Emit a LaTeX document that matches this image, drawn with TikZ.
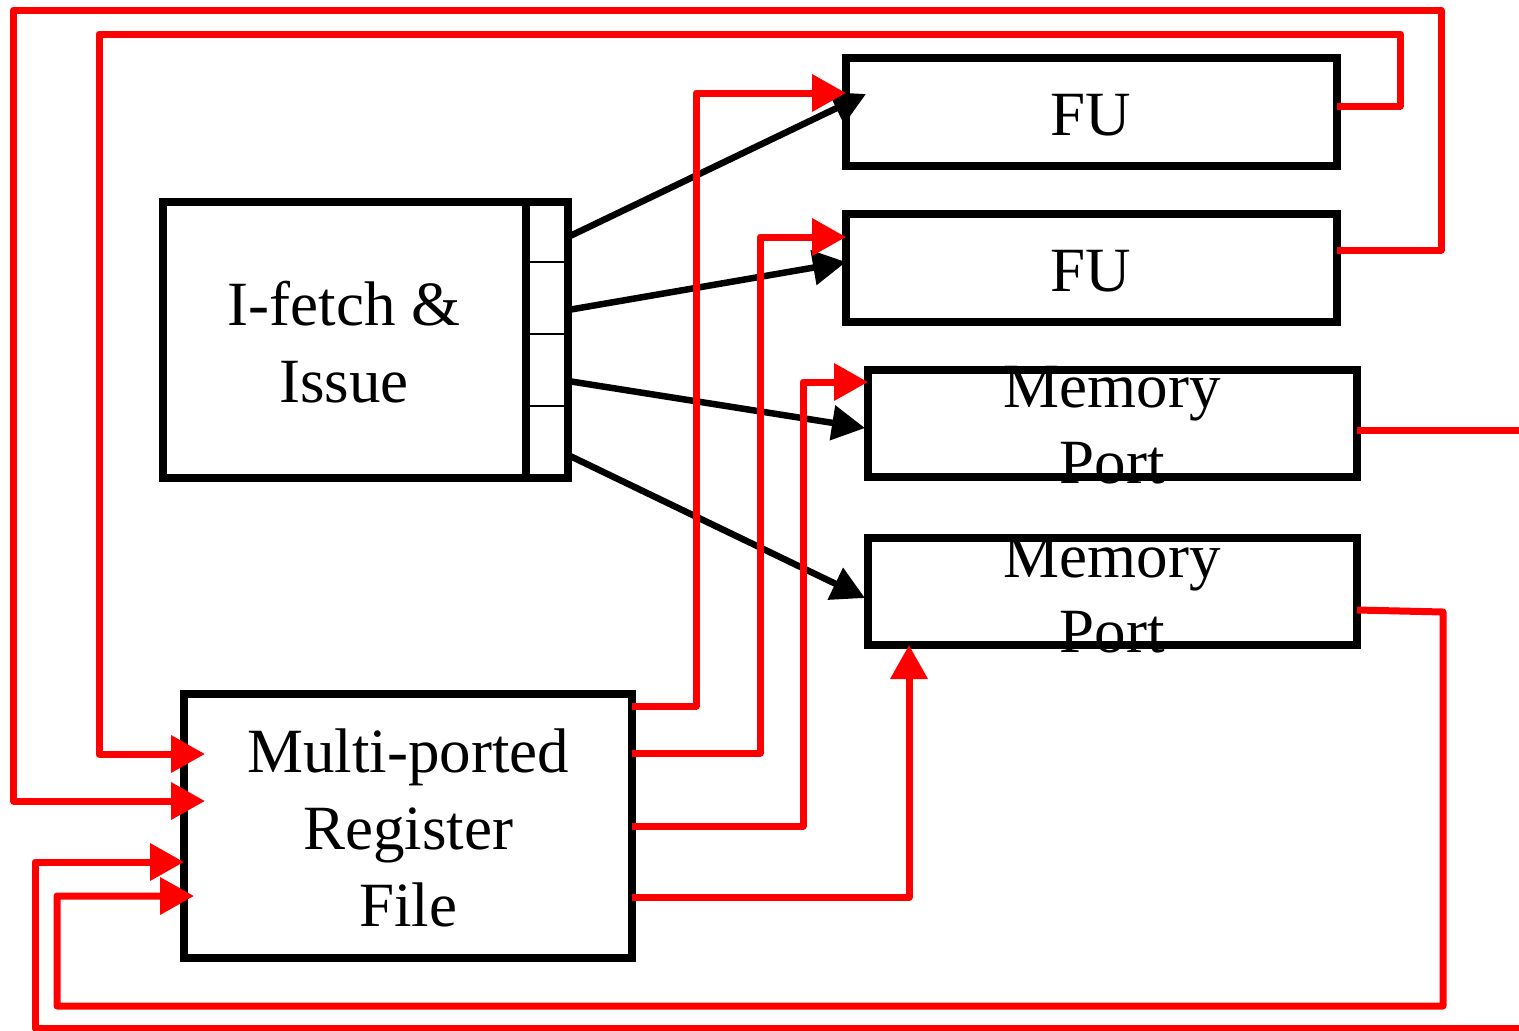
\documentclass[tikz,border=0pt]{standalone}
\usepackage{fontspec}
\setmainfont{Liberation Serif}
\usetikzlibrary{arrows.meta,calc}

\begin{document}
\begin{tikzpicture}[x=1pt,y=-1pt,
  blk/.style={draw=black,line width=7.5pt,fill=white,inner sep=0pt,outer sep=0pt,
    minimum width=#1},
  lbl/.style={font=\fontsize{63}{74}\selectfont,inner sep=0pt,anchor=base},
  sep/.style={draw=black,line width=1.7pt},
  ctl/.style={draw=black,line width=6.5pt,-{Triangle[length=33pt,width=34pt]}},
  dat/.style={draw=red,line width=7pt,line join=round,-{Triangle[length=34pt,width=36pt]}},
  datline/.style={draw=red,line width=7pt,line join=round}]

\useasboundingbox (0,0) rectangle (1519,1031);

% functional blocks
\node[blk=363pt,minimum height=276pt] (ifetch) at (344.5,340) {};
\node[blk=42pt,minimum height=276pt]  (queue)  at (547,340) {};
\node[blk=491pt,minimum height=108pt] (fu1)  at (1091.5,112) {};
\node[blk=491pt,minimum height=108pt] (fu2)  at (1091.5,268) {};
\node[blk=489pt,minimum height=107pt] (mem1) at (1112.5,423.5) {};
\node[blk=489pt,minimum height=107pt] (mem2) at (1112.5,591.5) {};
\node[blk=448pt,minimum height=264pt] (rf)   at (408,826) {};

% issue queue slots
\draw[sep] (queue.west |- 0,262) -- (queue.east |- 0,262);
\draw[sep] (queue.west |- 0,334) -- (queue.east |- 0,334);
\draw[sep] (queue.west |- 0,406) -- (queue.east |- 0,406);

% block labels
\node[lbl] (t-if1) at (344,325) {I-fetch \&};
\node[lbl] (t-if2) at (344,402) {Issue};
\node[lbl] (t-fu1) at (1091,135) {FU};
\node[lbl] (t-fu2) at (1091,291) {FU};
\node[lbl] (t-m1a) at (1112,407) {Memory};
\node[lbl] (t-m1b) at (1112,483) {Port};
\node[lbl] (t-m2a) at (1112,577) {Memory};
\node[lbl] (t-m2b) at (1112,652) {Port};
\node[lbl] (t-rf1) at (408,772) {Multi-ported};
\node[lbl] (t-rf2) at (408,849) {Register};
\node[lbl] (t-rf3) at (408,926) {File};

% instruction issue paths
\draw[ctl] (queue.east |- 0,237) -- ($(fu1.north west)+(20,36)$);
\draw[ctl] (queue.east |- 0,310) -- (fu2.west |- 0,262);
\draw[ctl] (queue.east |- 0,381) -- ($(mem1.west |- 0,428)+(-3,0)$);
\draw[ctl] (queue.east |- 0,455) -- ($(mem2.west |- 0,598)+(-3,0)$);

% operand read paths
\draw[dat] (rf.east |- 0,706) -- ++(64,0) |- (fu1.west |- 0,93);
\draw[dat] (rf.east |- 0,753) -- ++(128,0) |- (fu2.west |- 0,237);
\draw[dat] (rf.east |- 0,826) -- ++(171,0) |- (mem1.west |- 0,382);
\draw[dat] (rf.east |- 0,897) -| ($(mem2.south west)+(41,0)$);

% result write-back paths
\draw[dat] (fu1.east |- 0,106) -| (1400,34) -| (99,754)
  -- ($(rf.west |- 0,754)+(21,0)$);
\draw[dat] (fu2.east |- 0,250) -| (1441,10) -| (13.5,801)
  -- ($(rf.west |- 0,801)+(21,0)$);
\draw[dat] (mem2.east |- 0,610) -- (1443,612) |- (57,1006)
  |- ($(rf.west |- 0,896)+(10,0)$);

% memory port paths leaving and re-entering at the right edge
\coordinate (memout) at (1519,430);
\coordinate (memin) at (1519,1028);
\draw[datline] (mem1.east |- 0,430) -- (memout);
\draw[dat] (memin) -| (35,862) -- (rf.west |- 0,862);
\end{tikzpicture}
\end{document}
